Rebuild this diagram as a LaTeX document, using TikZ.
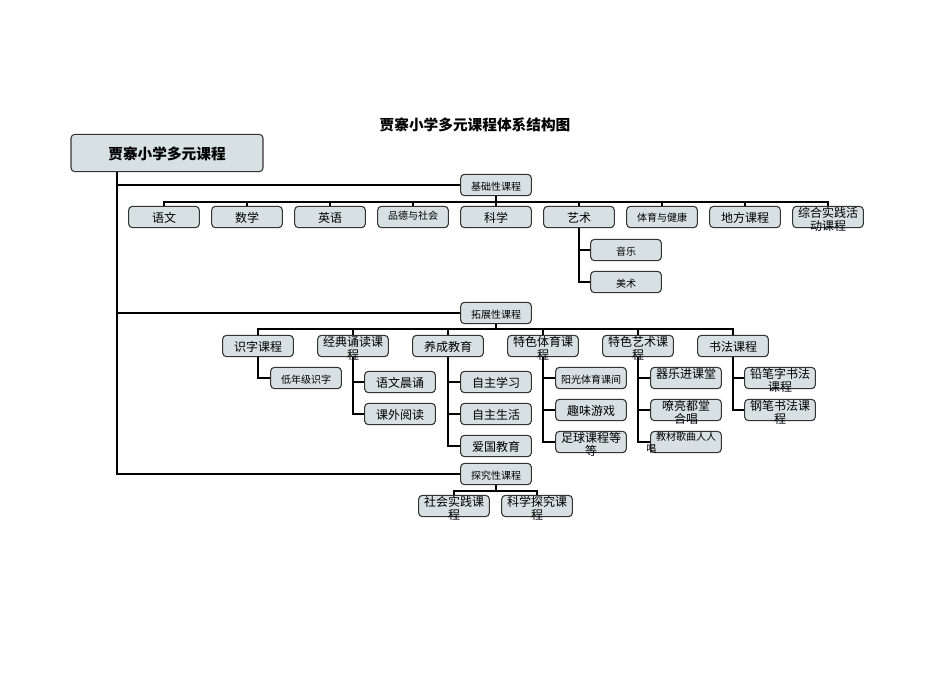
\documentclass[tikz,border=0pt]{standalone}
\usepackage{fontspec}
\setmainfont{Noto Sans CJK SC}
\usetikzlibrary{positioning}
\begin{document}
\begin{tikzpicture}[x=0.75pt,y=-0.75pt]
\tikzstyle{box} = [shape=rectangle, rounded corners=1mm, draw=black!80, fill=cyan!20!gray!30, thick, minimum width=53pt, minimum height=16pt, inner sep=0pt];
\tikzstyle{txt} = [font=\fontsize{9}{10}\selectfont, inner sep=0pt, align=center];
\tikzstyle{small} = [font=\fontsize{7.5}{9}\selectfont, inner sep=0pt, align=center];
\tikzstyle{wire} = [line width=1.5pt];
\newcommand{\bx}[5][txt]{%
  \node[box] (#2) at (#3) {};
  \node[#1, anchor=base] (#2t) at ([yshift=-4pt]#2.center) {#4};}
\newcommand{\bw}[4][txt]{%
  \node[box] (#2) at (#3) {};
  \node[#1, anchor=north] (#2t) at ([yshift=-1pt]#2.north) {#4};}
\useasboundingbox (0,0) rectangle (950,672);
\node[font=\bfseries\fontsize{11}{12}\selectfont] (title) at (475,125) {贾寨小学多元课程体系结构图};
\node[box, minimum width=144pt, minimum height=28pt] (root) at (167,153) {};
\node[font=\bfseries\fontsize{11}{12}\selectfont] (roott) at (167,154) {贾寨小学多元课程};
\bx[small]{jc}{496,185}{基础性课程}{}
\bx[small]{tz}{496,313}{拓展性课程}{}
\bx[small]{tj}{496,474}{探究性课程}{}
\coordinate (r1) at (117,185); \coordinate (r2) at (117,313); \coordinate (r3) at (117,474);
\draw[wire] (root.south -| r1) -- (r3) -- (tj.west);
\draw[wire] (r1) -- (jc.west);
\draw[wire] (r2) -- (tz.west);
% basic courses
\bx{a1}{164,217}{语文}{}
\bx{a2}{247,217}{数学}{}
\bx{a3}{330,217}{英语}{}
\node[box] (a4) at (413,217) {}; \node[small] (a4t) at (413,216) {品德与社会};
\bx{a5}{496,217}{科学}{}
\bx{a6}{579,217}{艺术}{}
\node[box] (a7) at (662,217) {}; \node[small] (a7t) at (662,218) {体育与健康};
\bx{a8}{745,217}{地方课程}{}
\bw{a9}{828,217}{综合实践活\\动课程}
\draw[wire] (jc.south) -- (496,202);
\draw[wire] (a1.north) -- (164,202) -- (828,202) -- (a9.north);
\foreach \n in {a2,a3,a4,a5,a6,a7,a8} \draw[wire] (\n.north) -- (\n.north |- 0,202);
\bx[small]{b1}{626,250}{音乐}{}
\bx[small]{b2}{626,282}{美术}{}
\draw[wire] (a6.south) -- (a6.south |- b2) -- (b2.west);
\draw[wire] (a6.south |- b1) -- (b1.west);
% extended courses
\bx{c1}{258,346}{识字课程}{}
\bw{c2}{353,346}{经典诵读课\\程}
\bx{c3}{448,346}{养成教育}{}
\bw{c4}{543,346}{特色体育课\\程}
\bw{c5}{638,346}{特色艺术课\\程}
\bx{c6}{733,346}{书法课程}{}
\draw[wire] (tz.south) -- (496,329);
\draw[wire] (c1.north) -- (258,329) -- (733,329) -- (c6.north);
\foreach \n in {c2,c3,c4,c5} \draw[wire] (\n.north) -- (\n.north |- 0,329);
\bx[small]{d1}{306,378}{低年级识字}{}
\bx{d2}{400,382}{语文晨诵}{}
\bx{d3}{400,414}{课外阅读}{}
\bx{d4}{496,382}{自主学习}{}
\bx{d5}{496,414}{自主生活}{}
\bx{d6}{496,446}{爱国教育}{}
\bx[small]{d7}{591,378}{阳光体育课间}{}
\bx{d8}{591,410}{趣味游戏}{}
\bw{d9}{591,442}{足球课程等\\等}
\bw{d10}{686,378}{器乐进课堂}
\bw{d11}{686,410}{嘹亮都堂\\合唱}
\bw[small]{d12}{686,442}{教材歌曲人人\\唱\hspace*{52pt}}
\bw{d13}{780,378}{铅笔字书法\\课程}
\bw{d14}{780,410}{钢笔书法课\\程}
\draw[wire] (c1.south) -- (c1.south |- d1) -- (d1.west);
\draw[wire] (c2.south) -- (c2.south |- d3) -- (d3.west);
\draw[wire] (c2.south |- d2) -- (d2.west);
\draw[wire] (c3.south) -- (c3.south |- d6) -- (d6.west);
\foreach \n in {d4,d5} \draw[wire] (c3.south |- \n) -- (\n.west);
\draw[wire] (c4.south) -- (c4.south |- d9) -- (d9.west);
\foreach \n in {d7,d8} \draw[wire] (c4.south |- \n) -- (\n.west);
\draw[wire] (c5.south) -- (c5.south |- d12) -- (d12.west);
\foreach \n in {d10,d11} \draw[wire] (c5.south |- \n) -- (\n.west);
\draw[wire] (c6.south) -- (c6.south |- d14) -- (d14.west);
\draw[wire] (c6.south |- d13) -- (d13.west);
% inquiry courses
\bw{e1}{454,506}{社会实践课\\程}
\bw{e2}{537,506}{科学探究课\\程}
\draw[wire] (tj.south) -- (496,491);
\draw[wire] (e1.north) -- (454,491) -- (537,491) -- (e2.north);
\end{tikzpicture}
\end{document}
